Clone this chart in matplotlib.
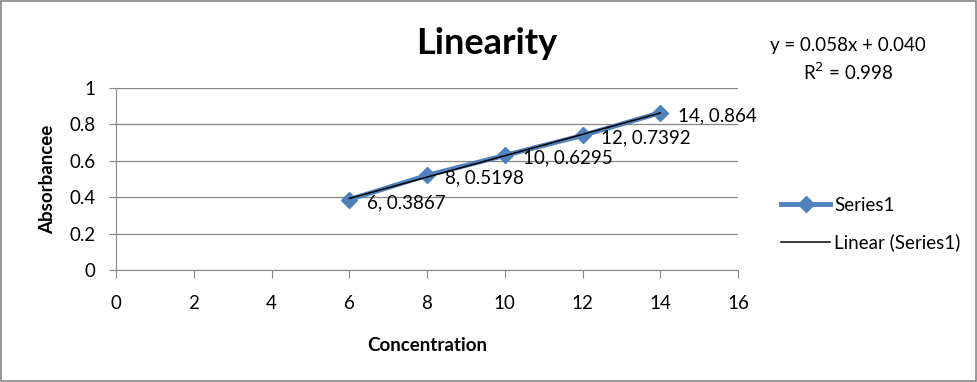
import numpy as np
import matplotlib.pyplot as plt
from matplotlib.patches import Rectangle

# Data
concentration = [6, 8, 10, 12, 14]
absorbance = [0.3867, 0.5198, 0.6295, 0.7392, 0.864]
x_ticks = [0, 2, 4, 6, 8, 10, 12, 14, 16]
y_ticks = [0, 0.2, 0.4, 0.6, 0.8, 1]
equation = 'y = 0.058x + 0.040'
r_squared = 'R$^2$ = 0.998'

plt.rcParams['font.family'] = ['Lato', 'DejaVu Sans']

fig = plt.figure(figsize=(9.78, 3.82), dpi=100)
ax = fig.add_axes([116 / 978, 1 - 270 / 382, (738 - 116) / 978, (270 - 88) / 382])

blue = '#4F81BD'
ax.plot(concentration, absorbance, color=blue, lw=3.5, marker='D', ms=8,
        mec=blue, mfc=blue, label='Series1', zorder=3)

# linear trendline through the points
slope, intercept = np.polyfit(concentration, absorbance, 1)
xs = np.array([min(concentration), max(concentration)])
ax.plot(xs, slope * xs + intercept, color='black', lw=1.1,
        label='Linear (Series1)', zorder=4)

# data labels
for xv, yv in zip(concentration, absorbance):
    ax.annotate(f'{xv}, {yv:g}', (xv, yv), xytext=(13, -2),
                textcoords='offset points', fontsize=13.5,
                va='center', ha='left')

ax.set_xlim(0, 16)
ax.set_ylim(0, 1)
ax.set_xticks(x_ticks)
ax.set_yticks(y_ticks)
ax.set_yticklabels(['0', '0.2', '0.4', '0.6', '0.8', '1'])
ax.tick_params(axis='x', direction='out', length=6, color='#868686',
               labelsize=13.5, pad=12)
ax.tick_params(axis='y', direction='out', length=5, color='#868686',
               labelsize=13.5, pad=10)
ax.grid(axis='y', color='#868686', lw=0.9)
ax.set_axisbelow(True)
for s in ['top', 'right']:
    ax.spines[s].set_visible(False)
ax.spines['left'].set_color('#868686')
ax.spines['bottom'].set_color('#868686')

ax.set_xlabel('Concentration', fontsize=13.5, fontweight='bold', labelpad=18)
ax.set_ylabel('Absorbancee', fontsize=13.5, fontweight='bold', labelpad=9)

fig.text(487 / 978, 1 - 44 / 382, 'Linearity', fontsize=26, fontweight='bold',
         ha='center', va='center')
fig.text(848 / 978, 1 - 46 / 382, equation, fontsize=13.5,
         ha='center', va='center')
fig.text(848 / 978, 1 - 72 / 382, r_squared, fontsize=13.5,
         ha='center', va='center')

ax.legend(loc='center left', bbox_to_anchor=(774 / 978, 1 - 224 / 382),
          bbox_transform=fig.transFigure, frameon=False, fontsize=13.5,
          handlelength=2.6, labelspacing=1.05, handletextpad=0.2,
          borderaxespad=0)

fig.patches.append(Rectangle((0.001, 0.002), 0.997, 0.995, transform=fig.transFigure,
                             fill=False, edgecolor='#868686', lw=1.2))

fig.savefig('out.png', dpi=100)
